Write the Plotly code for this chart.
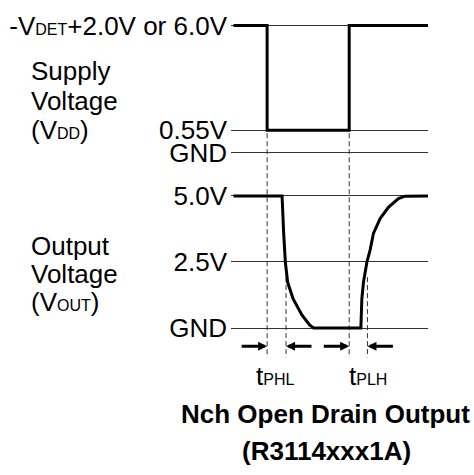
import plotly.graph_objects as go

OFF = 0
W, H = 474 - OFF, 475 - OFF

# ---- data ----
# supply waveform (time in arbitrary units, level in schematic axis units)
sup_t = [0, 33.7, 33.7, 116.0, 116.0, 195]
sup_level = [5.65, 5.65, 1.0, 1.0, 5.65, 5.65]
sup_tickvals = [0, 1.0, 5.65]
sup_ticktext = ["GND", "0.55V", "-V<span style='font-size:16px'>DET</span>+2.0V or 6.0V"]

# output waveform (volts)
out_t = [0, 48.7, 50.3, 51.0, 52.0, 54.3, 59.7, 68.7, 76.3, 80.3, 127.7, 128.7, 130.3,
         133.7, 137.0, 140.3, 147.0, 155.3, 165.3, 172.0, 195]
out_v = [5.0, 5.0, 3.58, 2.96, 2.49, 1.73, 1.11, 0.49, 0.12, 0.0, 0.0, 1.11, 1.73,
         2.49, 2.96, 3.58, 4.14, 4.57, 4.90, 4.99, 5.0]
out_tickvals = [0, 2.5, 5.0]
out_ticktext = ["GND", "2.5V", "5.0V"]

edge_t = [33.7, 116.0]          # supply edges
cross_t = [52.7, 134.3]         # output 2.5V crossings
arrow_len = 27

FS = 26
SUB = 16
BLACK = "#000000"
GRID = "#333333"

X0 = -2.5                        # grid lines start slightly left of the waveforms
L, PW = 233 + X0 - OFF, 195 - X0
R = W - L - PW


def fy(p):
    """page pixel y -> paper fraction"""
    return 1 - (p - OFF) / H


def fx(p):
    """page pixel x -> paper fraction (relative to the plot area)"""
    return (p - OFF - L) / PW


fig = go.Figure()
fig.add_trace(go.Scatter(x=sup_t, y=sup_level, mode="lines",
                         line=dict(color=BLACK, width=3), yaxis="y", hoverinfo="skip"))
fig.add_trace(go.Scatter(x=out_t, y=out_v, mode="lines",
                         line=dict(color=BLACK, width=3), yaxis="y2", hoverinfo="skip"))

# dashed verticals
shapes = []
for t in edge_t:
    shapes.append(dict(type="line", xref="x", yref="paper", x0=t, x1=t, y0=fy(131), y1=fy(360),
                       line=dict(color=GRID, width=1, dash="5px,3px"), layer="below"))
for t in cross_t:
    shapes.append(dict(type="line", xref="x", yref="paper", x0=t, x1=t, y0=fy(278), y1=fy(360),
                       line=dict(color=GRID, width=1, dash="5px,3px"), layer="below"))

ann = []
ay = fy(348.5)
# arrows: into edge from left, into crossing from right
for head, tail in [(edge_t[0], edge_t[0] - arrow_len), (cross_t[0], cross_t[0] + arrow_len),
                   (edge_t[1], edge_t[1] - arrow_len), (cross_t[1], cross_t[1] + arrow_len)]:
    ann.append(dict(x=head, y=ay, xref="x", yref="paper", ax=tail, ay=0, axref="x", ayref="pixel",
                    showarrow=True, arrowhead=2, arrowsize=0.6, arrowwidth=3, arrowcolor=BLACK,
                    text=""))


def label(text, x, y, size=FS, xanchor="left", bold=False):
    t = "<b>%s</b>" % text if bold else text
    ann.append(dict(text=t, x=fx(x), y=fy(y), xref="paper", yref="paper", showarrow=False,
                    xanchor=xanchor, yanchor="middle", font=dict(size=size, color=BLACK)))


label("Supply", 28, 76 - 9)
label("Voltage", 28, 107 - 9)
label("(V<span style='font-size:%dpx'>DD</span>)" % SUB, 28, 137 - 9)
label("Output", 28, 255 - 9)
label("Voltage", 28, 283.5 - 9)
label("(V<span style='font-size:%dpx'>OUT</span>)" % SUB, 28, 312 - 9)
label("t<span style='font-size:%dpx'>PHL</span>" % SUB, 275, 388 - 9, xanchor="center")
label("t<span style='font-size:%dpx'>PLH</span>" % SUB, 368, 388 - 9, xanchor="center")
label("Nch Open Drain Output", 325, 426.5 - 9, size=26, xanchor="center", bold=True)
label("(R3114xxx1A)", 326, 465 - 9, size=26, xanchor="center", bold=True)

fig.update_layout(
    width=W, height=H, margin=dict(l=L, r=R, t=0, b=0, pad=0),
    paper_bgcolor="white", plot_bgcolor="white", showlegend=False,
    font=dict(family="Liberation Sans, Arial, sans-serif", size=FS, color=BLACK),
    xaxis=dict(range=[X0, 195], showgrid=False, zeroline=False, showticklabels=False,
               showline=False, ticks="", fixedrange=True),
    yaxis=dict(domain=[fy(161), fy(11)], range=[-10 / 23, 140 / 23], tickvals=sup_tickvals,
               ticktext=sup_ticktext, showgrid=True, gridcolor=GRID, gridwidth=1,
               zeroline=False, showline=False, ticks="", ticklabelstandoff=3, anchor="x",
               fixedrange=True),
    yaxis2=dict(domain=[fy(340), fy(185)], range=[-10 / 27, 145 / 27], tickvals=out_tickvals,
                ticktext=out_ticktext, showgrid=True, gridcolor=GRID, gridwidth=1,
                zeroline=False, showline=False, ticks="", ticklabelstandoff=3, anchor="x",
                fixedrange=True),
    shapes=shapes, annotations=ann,
)

# remove the default 8px page margin so the 474x475 figure fills the window exactly
fig.write_html("out.html", config={"displayModeBar": False, "staticPlot": True},
               post_script="document.body.style.margin='0';")
